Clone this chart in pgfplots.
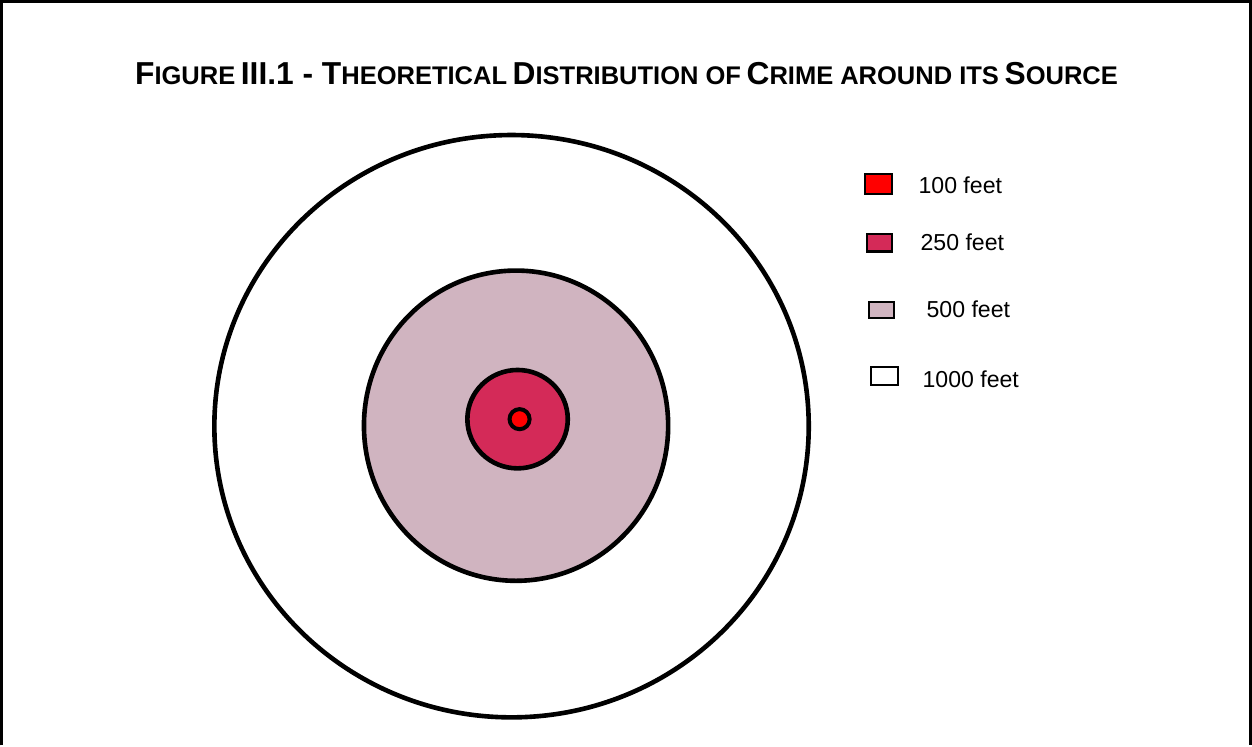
\documentclass[border=0pt]{standalone}
\usepackage{pgfplots}
\pgfplotsset{compat=1.18}
\usepackage{fontspec}
\setmainfont{Liberation Sans}
\definecolor{ringA}{HTML}{FF0000}
\definecolor{ringB}{HTML}{D42A58}
\definecolor{ringC}{HTML}{D0B4C0}
\newcommand\bigc[1]{{\fontsize{15.8}{18}\selectfont #1}}
\newcommand\smc[1]{{\fontsize{12.7}{15}\selectfont\MakeUppercase{#1}}}
\begin{document}
\begin{tikzpicture}
\begin{axis}[
  scale only axis, width=626pt, height=372pt,
  xmin=0, xmax=1252, ymin=0, ymax=744,
  hide axis, clip=false,
]
% frame (left, top, right)
\addplot[black, line width=1.5pt] coordinates {(4,0) (4,741) (1248,741) (1248,0)};
% rings: centre x, centre y, x radius, y radius
\draw[black, line width=2.3pt, fill=white] (axis cs:512,318) ellipse [x radius=296, y radius=290];
\draw[black, line width=2.3pt, fill=ringC] (axis cs:516.5,318.5) ellipse [x radius=151.5, y radius=154.5];
\draw[black, line width=2.3pt, fill=ringB] (axis cs:518,325) ellipse [x radius=50, y radius=49];
\draw[black, line width=2.0pt, fill=ringA] (axis cs:520,325) ellipse [x radius=10, y radius=10];
% legend
\draw[black, line width=1pt, fill=ringA] (axis cs:864,569) rectangle (axis cs:891,549);
\draw[black, line width=1pt, fill=ringB] (axis cs:866,509) rectangle (axis cs:891,492);
\draw[black, line width=1pt, fill=ringC] (axis cs:868,442) rectangle (axis cs:893,426);
\draw[black, line width=1pt, fill=white] (axis cs:870,377) rectangle (axis cs:897,359);
\tikzset{lg/.style={anchor=west, inner sep=0pt, font=\fontsize{11.5}{13}\selectfont}}
\node[lg] at (axis cs:917,558) {100 feet};
\node[lg] at (axis cs:919,501) {250 feet};
\node[lg] at (axis cs:925,434) {500 feet};
\node[lg] at (axis cs:921,365) {1000 feet};
% title
\node[anchor=base, inner sep=0pt, font=\bfseries] at (axis cs:626.5,658)
  {\bigc{F}\smc{igure} \bigc{III.1 - T}\smc{heoretical} \bigc{D}\smc{istribution of} \bigc{C}\smc{rime around its} \bigc{S}\smc{ource}};
\end{axis}
\end{tikzpicture}
\end{document}
